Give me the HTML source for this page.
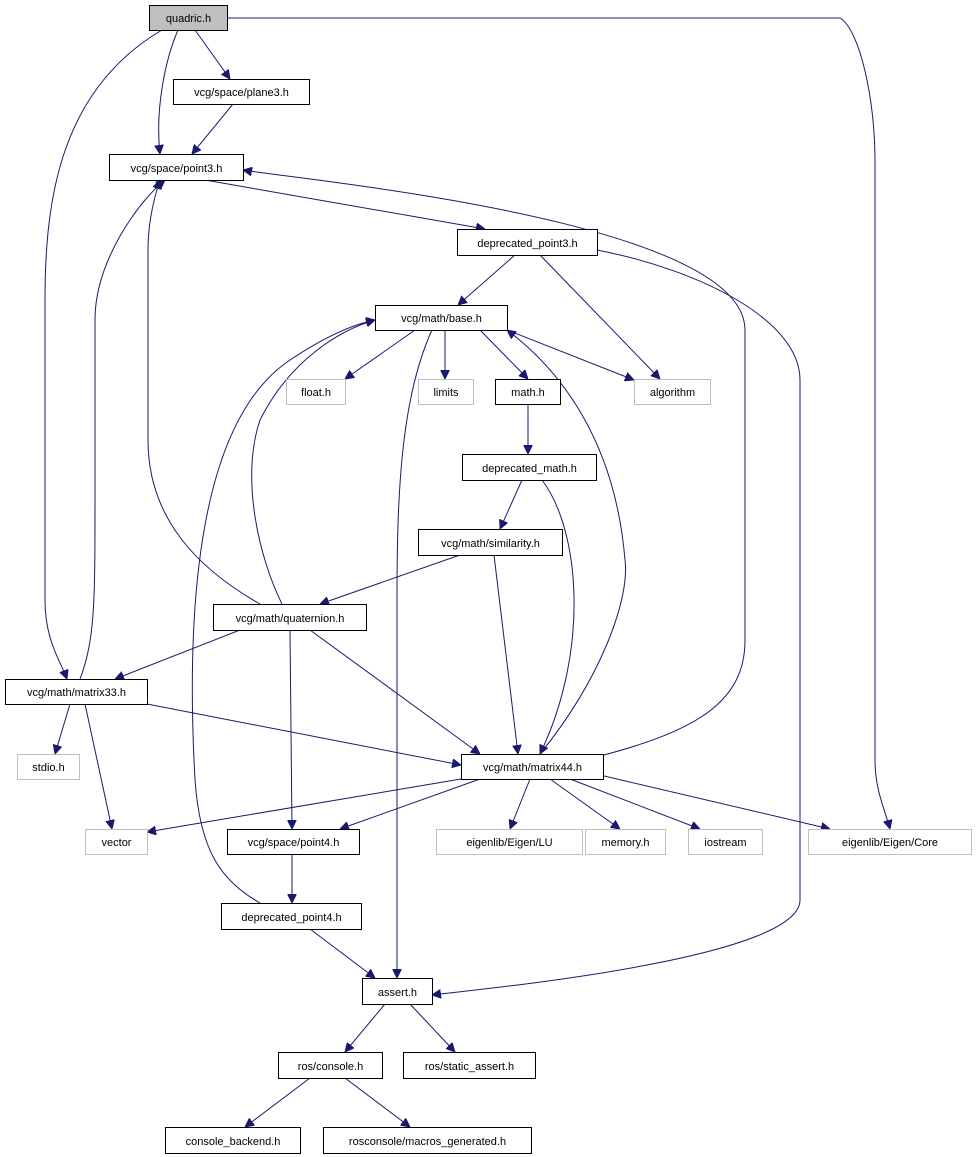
<!DOCTYPE html>
<html><head><meta charset="utf-8"><style>
html,body{margin:0;padding:0;background:#fff;}
svg{display:block;}
text{font-family:"Liberation Sans",sans-serif;font-size:11px;fill:#000;}
.n{fill:#fff;stroke:#000;stroke-width:1;}
.g{fill:#fff;stroke:#bfbfbf;stroke-width:1;}
.e{fill:none;stroke:#191970;stroke-width:1;}
</style></head><body>
<svg width="976" height="1157" viewBox="0 0 976 1157" xmlns="http://www.w3.org/2000/svg">
<defs><marker id="a" viewBox="0 0 10 10" refX="10" refY="5" markerWidth="9" markerHeight="9" markerUnits="userSpaceOnUse" orient="auto"><path d="M0,0 L10,5 L0,10 z" fill="#191970" stroke="#191970"/></marker></defs>
<g marker-end="url(#a)">
<path class="e" d="M178,30 C165,60 155,110 160,154"/>
<path class="e" d="M195,30 L230,79"/>
<path class="e" d="M162,30 C60,90 45,200 45,300 L45,600 C45,640 60,660 67,679"/>
<path class="e" d="M227,18 L840,18 C860,30 875,100 875,160 L875,760 C875,790 885,810 890,829"/>
<path class="e" d="M233,104 L192,154"/>
<path class="e" d="M205,180 L485,229"/>
<path class="e" d="M515,255 L458,305"/>
<path class="e" d="M540,255 L660,379"/>
<path class="e" d="M597,250 C700,270 800,320 800,380 L800,900 C800,960 470,990 432,995"/>
<path class="e" d="M415,330 L345,379"/>
<path class="e" d="M445,330 L445,379"/>
<path class="e" d="M480,330 L528,379"/>
<path class="e" d="M507,330 L634,380"/>
<path class="e" d="M540,754 C600,680 630,600 625,560 C615,440 560,370 507,330"/>
<path class="e" d="M432,330 C400,400 397,500 397,600 L397,978"/>
<path class="e" d="M528,404 L528,454"/>
<path class="e" d="M522,480 L500,529"/>
<path class="e" d="M542,480 C580,530 590,650 540,754"/>
<path class="e" d="M460,555 L320,604"/>
<path class="e" d="M494,555 L518,754"/>
<path class="e" d="M260,604 C200,570 148,520 148,440 L148,250 C148,220 155,195 160,180"/>
<path class="e" d="M282,604 C260,560 240,480 260,420 C290,360 340,330 375,320"/>
<path class="e" d="M240,630 L115,679"/>
<path class="e" d="M310,630 L480,754"/>
<path class="e" d="M290,630 L292,829"/>
<path class="e" d="M80,679 C95,640 95,600 95,500 L95,320 C95,260 140,200 165,180"/>
<path class="e" d="M70,704 L55,754"/>
<path class="e" d="M85,704 L112,829"/>
<path class="e" d="M147,704 L461,765"/>
<path class="e" d="M600,756 C700,730 745,700 745,640 L745,330 C745,220 300,180 243,170"/>
<path class="e" d="M461,779 L147,832"/>
<path class="e" d="M480,779 L340,829"/>
<path class="e" d="M530,779 L510,829"/>
<path class="e" d="M550,779 L620,829"/>
<path class="e" d="M570,779 L700,829"/>
<path class="e" d="M600,775 L830,829"/>
<path class="e" d="M292,854 L292,903"/>
<path class="e" d="M260,903 C220,880 200,850 195,780 C185,600 200,420 290,360 C320,340 350,325 375,320"/>
<path class="e" d="M310,929 L375,978"/>
<path class="e" d="M385,1004 L345,1052"/>
<path class="e" d="M410,1004 L455,1052"/>
<path class="e" d="M310,1078 L245,1127"/>
<path class="e" d="M345,1078 L410,1127"/>
</g>
<rect x="149.5" y="5.5" width="78" height="25" fill="#bfbfbf" stroke="#000"/><text x="188.5" y="22" text-anchor="middle">quadric.h</text>
<g text-anchor="middle">
<rect class="n" x="173.5" y="79.5" width="136" height="25"/><text x="241.5" y="96">vcg/space/plane3.h</text>
<rect class="n" x="109.5" y="154.5" width="134" height="26"/><text x="176.5" y="172">vcg/space/point3.h</text>
<rect class="n" x="457.5" y="229.5" width="140" height="26"/><text x="527.5" y="247">deprecated_point3.h</text>
<rect class="n" x="375.5" y="305.5" width="132" height="25"/><text x="441.5" y="322">vcg/math/base.h</text>
<rect class="g" x="286.5" y="379.5" width="59" height="25"/><text x="316" y="396">float.h</text>
<rect class="g" x="418.5" y="379.5" width="55" height="25"/><text x="446" y="396">limits</text>
<rect class="n" x="495.5" y="379.5" width="65" height="25"/><text x="528" y="396">math.h</text>
<rect class="g" x="634.5" y="379.5" width="76" height="25"/><text x="672.5" y="396">algorithm</text>
<rect class="n" x="462.5" y="454.5" width="134" height="26"/><text x="529.5" y="472">deprecated_math.h</text>
<rect class="n" x="418.5" y="529.5" width="144" height="26"/><text x="490.5" y="547">vcg/math/similarity.h</text>
<rect class="n" x="213.5" y="604.5" width="153" height="26"/><text x="290" y="622">vcg/math/quaternion.h</text>
<rect class="n" x="5.5" y="679.5" width="142" height="25"/><text x="76.5" y="696">vcg/math/matrix33.h</text>
<rect class="g" x="17.5" y="754.5" width="62" height="25"/><text x="48.5" y="771">stdio.h</text>
<rect class="n" x="461.5" y="754.5" width="142" height="25"/><text x="532.5" y="771">vcg/math/matrix44.h</text>
<rect class="g" x="85.5" y="829.5" width="62" height="25"/><text x="116.5" y="846">vector</text>
<rect class="n" x="227.5" y="829.5" width="132" height="25"/><text x="293.5" y="846">vcg/space/point4.h</text>
<rect class="g" x="436.5" y="829.5" width="146" height="25"/><text x="509.5" y="846">eigenlib/Eigen/LU</text>
<rect class="g" x="585.5" y="829.5" width="80" height="25"/><text x="625.5" y="846">memory.h</text>
<rect class="g" x="688.5" y="829.5" width="74" height="25"/><text x="725.5" y="846">iostream</text>
<rect class="g" x="808.5" y="829.5" width="163" height="25"/><text x="890" y="846">eigenlib/Eigen/Core</text>
<rect class="n" x="221.5" y="903.5" width="140" height="26"/><text x="291.5" y="921">deprecated_point4.h</text>
<rect class="n" x="362.5" y="978.5" width="70" height="26"/><text x="397.5" y="996">assert.h</text>
<rect class="n" x="278.5" y="1052.5" width="104" height="26"/><text x="330.5" y="1070">ros/console.h</text>
<rect class="n" x="403.5" y="1052.5" width="132" height="26"/><text x="469.5" y="1070">ros/static_assert.h</text>
<rect class="n" x="165.5" y="1127.5" width="135" height="26"/><text x="233" y="1145">console_backend.h</text>
<rect class="n" x="323.5" y="1127.5" width="208" height="26"/><text x="427.5" y="1145">rosconsole/macros_generated.h</text>
</g>
</svg>
</body></html>
